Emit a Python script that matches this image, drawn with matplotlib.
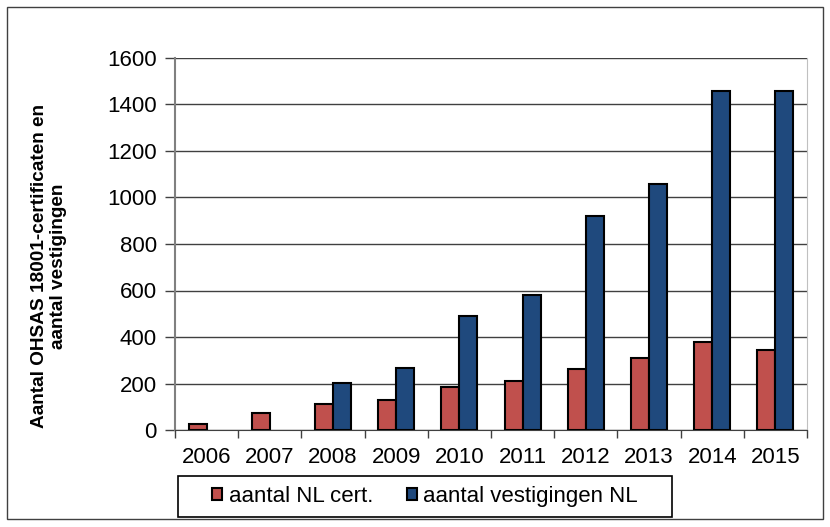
import matplotlib.pyplot as plt
import numpy as np
from matplotlib.patches import Rectangle

plt.rcParams['font.family'] = ['Liberation Sans', 'DejaVu Sans']

# data (no establishments figure for 2006/2007)
jaren = ['2006', '2007', '2008', '2009', '2010', '2011', '2012', '2013', '2014', '2015']
nl_cert = [25, 75, 113, 128, 183, 211, 261, 310, 377, 345]
vestigingen = [np.nan, np.nan, 203, 267, 489, 580, 922, 1060, 1460, 1460]

rood = '#C0504D'
blauw = '#1F497D'

fig = plt.figure(figsize=(8.3, 5.27), dpi=100)
ax = fig.add_axes([175 / 830, 1 - 430 / 527, (807 - 175) / 830, (430 - 58) / 527])

x = np.arange(len(jaren))
w = 0.285
ax.bar(x - w / 2, nl_cert, w, color=rood, edgecolor='black', linewidth=1.5,
       label='aantal NL cert.', zorder=3)
ax.bar(x + w / 2, vestigingen, w, color=blauw, edgecolor='black', linewidth=1.5,
       label='aantal vestigingen NL', zorder=3)

ax.set_xlim(-0.5, len(jaren) - 0.5)
ax.set_ylim(0, 1600)
ax.set_yticks(np.arange(0, 1601, 200))
ax.yaxis.grid(True, color='#404040', linewidth=1.0, zorder=0)

# category labels in the middle, tick marks on the category boundaries
ax.set_xticks(x)
ax.set_xticklabels(jaren)
ax.set_xticks(np.arange(-0.5, len(jaren), 1), minor=True)
ax.tick_params(axis='x', which='major', length=0, pad=12, labelsize=16)
ax.tick_params(axis='x', which='minor', length=6, color='#404040', width=1)
ax.tick_params(axis='y', length=7, color='#404040', width=1, pad=6, labelsize=16)

ax.spines['top'].set_visible(False)
ax.spines['left'].set_color('#808080')
ax.spines['left'].set_linewidth(1.5)
ax.spines['bottom'].set_color('#404040')
ax.spines['right'].set_color('#c0c0c0')

fig.text(49 / 830, 1 - 266 / 527, 'Aantal OHSAS 18001-certificaten en\naantal vestigingen',
         rotation=90, ha='center', va='center', fontsize=13.7, fontweight='bold',
         multialignment='center', linespacing=1.2)

# legend: frame drawn separately so the box size matches the reference
ax.legend(loc='center', bbox_to_anchor=((178 + 672) / 2 / 830, 1 - (476 + 517) / 2 / 527),
          bbox_transform=fig.transFigure, ncol=2, fontsize=16, frameon=False,
          handlelength=0.45, handleheight=0.45, handletextpad=0.3, columnspacing=1.5,
          borderaxespad=0, borderpad=0)
fig.patches.append(Rectangle((178 / 830, 1 - 517 / 527), (672 - 178) / 830, (517 - 476) / 527,
                             transform=fig.transFigure, fill=False, edgecolor='black', linewidth=1.2))

fig.patches.append(Rectangle((7 / 830, 1 - 519 / 527), (823 - 7) / 830, (519 - 7) / 527,
                             transform=fig.transFigure, fill=False, edgecolor='#404040', linewidth=1.0))

fig.savefig('out.png', dpi=100)
